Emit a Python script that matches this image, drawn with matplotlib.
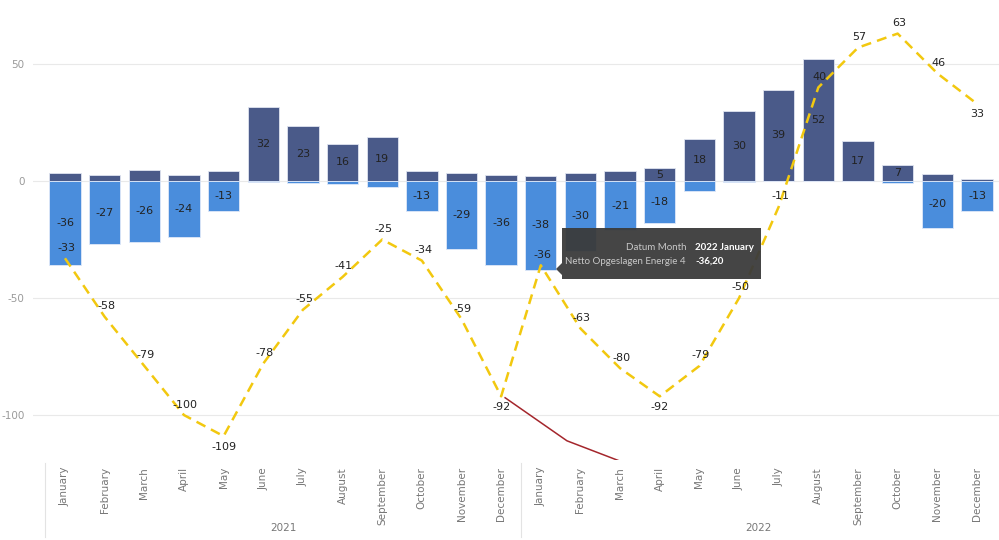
import matplotlib
matplotlib.use('Agg')
import matplotlib.pyplot as plt
import numpy as np
from matplotlib.patches import Rectangle, Polygon

months = ['January', 'February', 'March', 'April', 'May', 'June', 'July',
          'August', 'September', 'October', 'November', 'December']
years = ['2021', '2022']

# stacked columns: stored (dark) and used (blue)
pos_vals = [3.3, 2.7, 4.7, 2.4, 4.4, 31.6, 23.4, 16.0, 19.0, 4.4, 3.3, 2.7,
            2.0, 3.3, 4.4, 5.4, 18.0, 30.0, 39.0, 52.0, 17.0, 7.0, 2.8, 0.7]
neg_vals = [-36, -27, -26, -24, -13, -0.5, -1.0, -1.3, -2.4, -13, -29, -36,
            -38, -30, -21, -18, -4.1, -0.5, 0, 0, 0, -1.0, -20, -13]
# cumulative line
line_vals = [-33, -58, -79, -100, -109, -78, -55, -41, -25, -34, -59, -92,
             -36, -63, -80, -92, -79, -50, -11, 40, 57, 63, 46, 33]
below_idx = [4, 11, 15, 23]
# red trend segment
red_x = [11.1, 12.66, 14.0]
red_y = [-92.6, -111.0, -119.7]

dark = '#4a5a89'
blue = '#4a8ddc'
yellow = '#f2c80f'

fig = plt.figure(figsize=(9.99, 5.4), dpi=100)
ax = fig.add_axes([33 / 999, 80 / 540, 966 / 999, 460 / 540])

x = np.arange(len(line_vals))
ax.bar(x, pos_vals, width=0.79, color=dark, edgecolor='#dfe4f0', linewidth=0.6, zorder=2)
ax.bar(x, neg_vals, width=0.79, color=blue, edgecolor='#dfe8f8', linewidth=0.6, zorder=2)

ax.plot(x, line_vals, color=yellow, lw=1.8, ls=(0, (4, 2.5)), zorder=3)
ax.plot(red_x, red_y, color='#a4262c', lw=1.1, zorder=3)

lab_font = dict(fontsize=8, color='#222222', family='DejaVu Sans')
for i in range(len(x)):
    if pos_vals[i] >= 5:
        ax.text(x[i], pos_vals[i] / 2, f'{round(pos_vals[i])}', ha='center', va='center', zorder=5, **lab_font)
    if neg_vals[i] <= -10:
        ax.text(x[i], neg_vals[i] / 2, f'-{round(-neg_vals[i])}', ha='center', va='center', zorder=5, **lab_font)
    if i in below_idx:
        ax.annotate(f'{line_vals[i]}', (x[i], line_vals[i]), xytext=(0, -4), textcoords='offset points',
                    ha='center', va='top', zorder=5, **lab_font)
    else:
        ax.annotate(f'{line_vals[i]}', (x[i], line_vals[i]), xytext=(1, 4), textcoords='offset points',
                    ha='center', va='bottom', zorder=5, **lab_font)

ax.set_xlim(-0.807, 23.556)
ax.set_ylim(-119.2, 77.35)
ax.set_yticks([50, 0, -50, -100])
ax.set_yticklabels(['50', '0', '-50', '-100'])
ax.tick_params(axis='y', length=0, labelsize=7.5, labelcolor='#9a9a9a', pad=6)
ax.grid(axis='y', color='#e9e9e9', lw=0.8, zorder=0)
ax.set_axisbelow(True)
for s in ax.spines.values():
    s.set_visible(False)

ax.set_xticks(x)
ax.set_xticklabels(months * 2, rotation=90, va='top')
ax.tick_params(axis='x', length=0, labelsize=7.5, labelcolor='#777777', pad=5)

# year groups and separators
tr = ax.get_xaxis_transform()
for k, yr in enumerate(years):
    ax.text(5.5 + 12 * k, -0.148 * 540 / 460 + (540 - 528) / 460, yr, transform=tr,
            ha='center', va='center', fontsize=7.5, color='#777777')
for b in [-0.5, 11.5]:
    ax.plot([b, b], [-3 / 460, -77 / 460], transform=tr, color='#e3e3e3', lw=0.8, clip_on=False)

# tooltip
fig.add_artist(Rectangle((562 / 999, 1 - 279 / 540), 199 / 999, 51 / 540, transform=fig.transFigure,
                         facecolor='#3b3b3b', edgecolor='none', alpha=0.95, zorder=10))
fig.add_artist(Polygon([(562 / 999, 1 - 263 / 540), (556 / 999, 1 - 269 / 540), (562 / 999, 1 - 275 / 540)],
                       closed=True, transform=fig.transFigure, facecolor='#3b3b3b', edgecolor='none',
                       alpha=0.95, zorder=10))
tip_keys = ['Datum Month', 'Netto Opgeslagen Energie 4']
tip_vals = ['2022 January', '-36,20']
for r in range(2):
    yy = 1 - (247 + 14 * r) / 540
    fig.text(686 / 999, yy, tip_keys[r], ha='right', va='center', fontsize=7, color='#c8c8c8',
             family='Lato', zorder=11)
    fig.text(695 / 999, yy, tip_vals[r], ha='left', va='center', fontsize=7, color='white',
             family='Lato', weight='bold', zorder=11)

fig.savefig('out.png', dpi=100, facecolor='white')
